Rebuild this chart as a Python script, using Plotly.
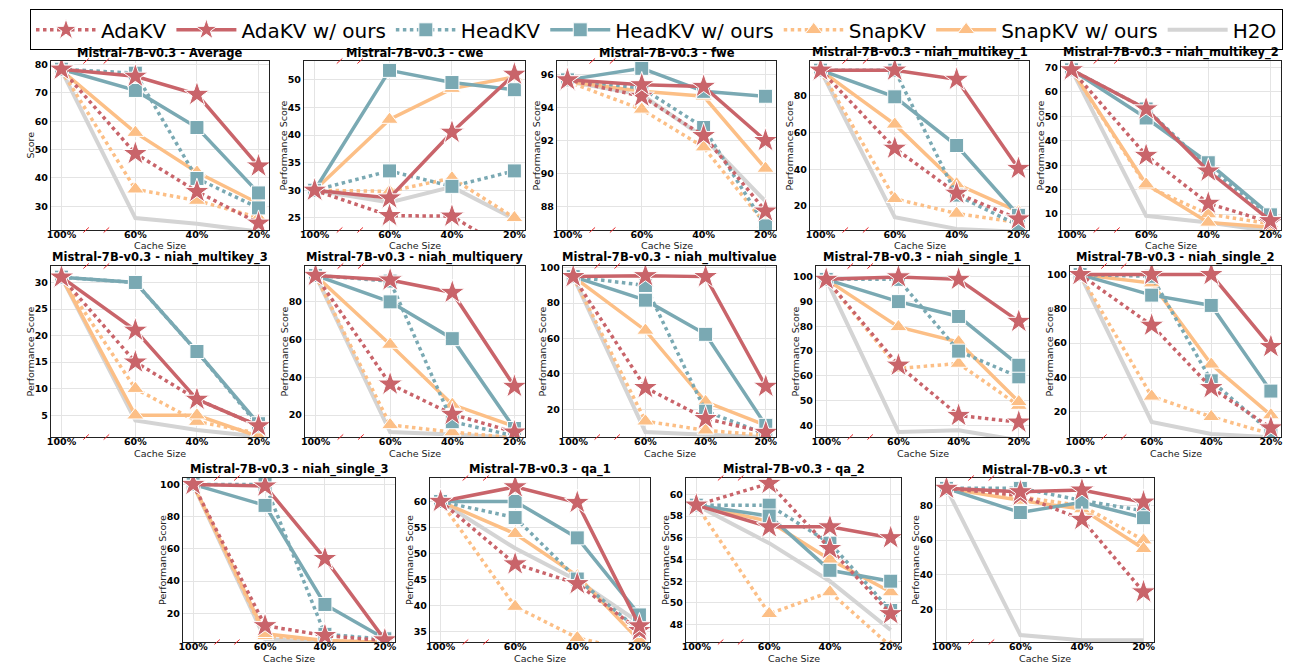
import plotly.graph_objects as go

# ---------------- data ----------------
TASKS = ["Average", "cwe", "fwe", "niah_multikey_1", "niah_multikey_2",
         "niah_multikey_3", "niah_multiquery", "niah_multivalue", "niah_single_1",
         "niah_single_2", "niah_single_3", "qa_1", "qa_2", "vt"]
MODEL = "Mistral-7B-v0.3"
CACHE_LABELS = ["100%", "60%", "40%", "20%"]

ADAKV = [
    [78.4, 48.6, 35.2, 24.0], [30.0, 25.4, 25.3, 18.5], [95.7, 94.7, 92.3, 87.7],
    [94, 51.5, 27, 13], [69, 34, 14.4, 6.6], [31, 15, 8, 3], [94, 36.4, 20.4, 11],
    [95, 32.3, 14.8, 7], [99, 64.3, 44, 41.3], [100, 70.4, 34, 10.5],
    [100, 12.3, 6.2, 3], [60, 48, 44.2, 35.2], [59, 61, 55, 49], [90, 86, 72, 30]]
ADAKV_OURS = [
    [78.4, 75.9, 69.5, 44.2], [30, 28.6, 40.5, 51], [95.7, 95.4, 95.3, 92.0],
    [94, 94, 89, 40.5], [69, 53, 27.6, 7.3], [31, 21, 8, 3], [94, 91.6, 85, 35.2],
    [95, 95.5, 95, 33], [99, 100, 99, 82], [100, 100, 100, 58],
    [100, 99, 54, 3.5], [60, 62.8, 59.8, 36.1], [59, 57, 57, 56], [90, 88, 89, 82]]
HEADKV = [
    [78.4, 77, 39.8, 29.4], [30, 33.5, 30.7, 33.5], [95.7, 95.2, 92.8, 86.8],
    [94, 94, 26, 9.5], [69, 53, 29, 9.3], [31, 30, 17, 3], [94, 91, 16.5, 9],
    [95, 90, 19, 6], [99, 99, 70, 59.6], [100, 99, 38, 8],
    [100, 100, 7, 4], [60, 56.9, 45.1, 35.2], [59, 59, 55.5, 49.3], [90, 90, 83, 77]]
HEADKV_OURS = [
    [78.4, 70.9, 57.8, 34.7], [30, 51.7, 49.5, 48.2], [95.7, 96.4, 95.0, 94.7],
    [94, 79.5, 53, 15], [69, 49.3, 31, 9.7], [31, 30, 17, 3.4], [94, 80, 60.5, 12.9],
    [95, 81.7, 62.4, 11], [99, 90, 84, 64.3], [100, 88, 82, 32],
    [100, 87, 25.5, 4.2], [60, 60, 53, 38.2], [59, 58, 53, 52], [90, 76, 82, 73]]
SNAPKV = [
    [78, 36, 32, 26], [30, 29.8, 32.2, 25], [95.6, 93.9, 91.6, 86.9],
    [94, 24, 16, 11], [69, 21.5, 10, 6], [31, 10, 3.8, 1.6], [94, 14.8, 11, 8],
    [95, 13.3, 8.2, 5.3], [99, 63, 65, 48], [100, 28.9, 17, 7],
    [100, 6, 3, 2], [60, 39.8, 33.8, 31], [59, 49, 51, 46], [90, 85, 80, 60]]
SNAPKV_OURS = [
    [78, 56, 42, 31], [30, 42.8, 48.4, 50.5], [95.6, 95.0, 94.7, 90.3],
    [94, 64.5, 32, 17], [69, 22.2, 6.6, 4.6], [31, 5, 5, 1], [94, 57.4, 25.6, 14],
    [95, 64.6, 24.3, 11], [99, 79.8, 73.7, 49.5], [100, 95, 47.6, 18],
    [100, 7.3, 3.2, 2], [60, 53.8, 45.7, 33.3], [59, 57.5, 54, 51], [90, 83, 78, 55]]
H2O = [
    [78, 25.8, 23.8, 21], [30, 27.8, 30.6, 24.8], [95.6, 94.8, 92.2, 88.3],
    [94, 14, 7.6, 6], [69, 9.3, 6.6, 3], [31, 4, 2.2, 1], [94, 11, 9.7, 8],
    [95, 7.2, 5.7, 4.4], [99, 37.3, 38, 34], [100, 14, 7, 5],
    [100, 4, 2, 2], [60, 51, 44.8, 36.7], [59, 55.5, 52, 47.5], [90, 5, 2, 2]]

# ---------------- layout config ----------------
W, H = 1297, 664
FONT = "DejaVu Sans"
X_POS = [0, 1.2, 2.2, 3.2]          # x positions of the cache-size categories
X_RANGE = [-0.17, 3.37]
BREAK_X = [0.4, 0.73]               # axis-break slash marks

# pixel boxes: left, right, top, bottom
BOXES = [
    (43, 261, 53, 222), (296, 517, 53, 222), (549, 768, 53, 222),
    (802, 1021, 53, 222), (1053, 1273, 53, 222),
    (43, 261, 258, 429), (297, 517, 258, 429), (555, 768, 258, 429),
    (808, 1021, 258, 429), (1062, 1273, 258, 429),
    (175, 387, 470, 634), (422, 642, 470, 634), (678, 893, 470, 634),
    (928, 1146, 470, 634)]
Y_RANGES = [
    [21.6, 81.3], [22.8, 53.4], [86.55, 96.85], [7, 99], [3.5, 72.6],
    [0.9, 33.1], [8.4, 99], [4.4, 101], [35.3, 104.4], [5.2, 105],
    [2.2, 104], [33, 64.5], [46.4, 61.5], [1, 96]]
Y_DTICK = [10, 5, 2, 20, 10, 5, 20, 20, 10, 20, 20, 5, 2, 20]

RED, TEAL, ORANGE, GRAY = "#C9646A", "#7AA9B3", "#FCBF86", "#D4D4D4"

# draw order (bottom -> top), with legend rank
SERIES = [
    ("H2O", H2O, GRAY, "solid", None, 0, 7),
    ("SnapKV", SNAPKV, ORANGE, "dot", "triangle-up", 15, 5),
    ("SnapKV w/ ours", SNAPKV_OURS, ORANGE, "solid", "triangle-up", 15, 6),
    ("HeadKV", HEADKV, TEAL, "dot", "square", 14, 3),
    ("HeadKV w/ ours", HEADKV_OURS, TEAL, "solid", "square", 14, 4),
    ("AdaKV", ADAKV, RED, "dot", "star", 19, 1),
    ("AdaKV w/ ours", ADAKV_OURS, RED, "solid", "star", 19, 2),
]

fig = go.Figure()
annotations = []
shapes = []

for i, task in enumerate(TASKS):
    ax = "" if i == 0 else str(i + 1)
    l, r, t, b = BOXES[i]
    xd = [l / W, r / W]
    yd = [1 - b / H, 1 - t / H]
    for name, data, color, dash, symbol, msize, rank in SERIES:
        mode = "lines" if symbol is None else "lines+markers"
        tr = dict(
            x=X_POS, y=data[i], mode=mode, name=name, legendgroup=name,
            showlegend=(i == 0), legendrank=rank,
            line=dict(color=color, width=4 if symbol is None else 3.5, dash=dash),
            xaxis="x" + ax, yaxis="y" + ax,
        )
        if symbol is not None:
            tr["marker"] = dict(symbol=symbol, size=msize, color=color,
                                line=dict(color="white", width=1))
        fig.add_trace(go.Scatter(**tr))

    fig.layout["xaxis" + ax] = dict(
        domain=xd, anchor="y" + ax, range=X_RANGE,
        tickmode="array", tickvals=X_POS, ticktext=CACHE_LABELS,
        tickfont=dict(family=FONT, size=9.5, color="black", weight="bold"),
        showline=True, mirror=True, linecolor="#222", linewidth=1.3,
        showgrid=True, gridcolor="#E4E4E4", gridwidth=1, zeroline=False,
        ticks="", ticklen=0, ticklabelstandoff=-5, automargin=False,
    )
    fig.layout["yaxis" + ax] = dict(
        domain=yd, anchor="x" + ax, range=Y_RANGES[i],
        tick0=0, dtick=Y_DTICK[i],
        tickfont=dict(family=FONT, size=9.5, color="black", weight="bold"),
        showline=True, mirror=True, linecolor="#222", linewidth=1.3,
        showgrid=True, gridcolor="#E4E4E4", gridwidth=1, zeroline=False,
        ticks="", ticklen=0, automargin=False,
    )
    # subplot title
    annotations.append(dict(
        text=f"<b>{MODEL} - {task}</b>", x=(xd[0] + xd[1]) / 2, y=yd[1],
        xref="paper", yref="paper", xanchor="center", yanchor="bottom",
        showarrow=False, font=dict(family=FONT, size=11.5, color="black"), yshift=-1,
    ))
    # x-axis title
    annotations.append(dict(
        text="Cache Size", x=(xd[0] + xd[1]) / 2, y=yd[0],
        xref="paper", yref="paper", xanchor="center", yanchor="middle",
        showarrow=False, font=dict(family=FONT, size=9.5, color="#222"), yshift=-16,
    ))
    # y-axis title
    annotations.append(dict(
        text="Score" if i == 0 else "Performance Score",
        x=xd[0], y=(yd[0] + yd[1]) / 2, textangle=-90,
        xref="paper", yref="paper", xanchor="center", yanchor="middle",
        showarrow=False, font=dict(family=FONT, size=9.5, color="#222"), xshift=-21,
    ))
    for bx in BREAK_X:
        for yc in (0, 1):
            shapes.append(dict(
                type="line", xref="x" + ax, yref=("y" + ax + " domain"),
                x0=bx - 0.045, x1=bx + 0.045, y0=yc - 0.015, y1=yc + 0.015,
                line=dict(color="#E8282B", width=1)))

fig.update_layout(
    width=W, height=H,
    margin=dict(l=0, r=0, t=0, b=0),
    paper_bgcolor="white", plot_bgcolor="white",
    annotations=annotations, shapes=shapes,
    showlegend=True,
    legend=dict(
        orientation="h", x=0.5, xanchor="center", y=0.998, yanchor="top",
        font=dict(family=FONT, size=20, color="black"),
        bordercolor="black", borderwidth=1, bgcolor="white",
        itemwidth=60, traceorder="normal", valign="middle",
    ),
)

fig.write_html("out.html")
